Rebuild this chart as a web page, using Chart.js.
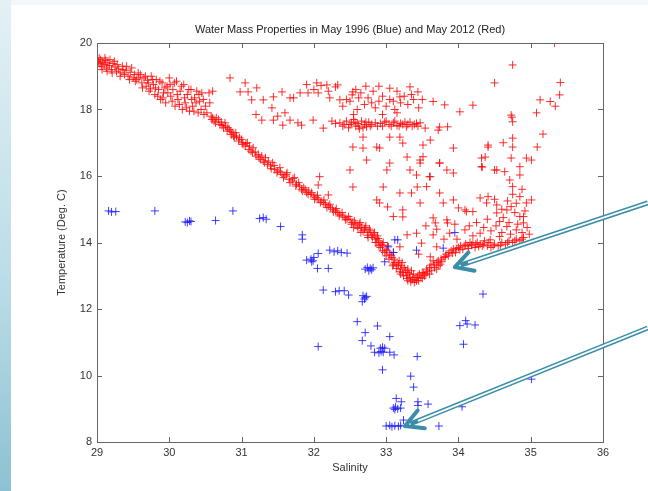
<!DOCTYPE html>
<html>
<head>
<meta charset="utf-8">
<script src="https://cdn.jsdelivr.net/npm/chart.js@4"></script>
<style>
  body { margin: 0; background: #fff; }
  #slide { position: absolute; left: 0; top: 0; width: 648px; height: 491px; background: #fff; }
  #strip { position: absolute; left: 0; top: 0; width: 11px; height: 491px;
           background: linear-gradient(#e4f1f5, #b9dbe6 60%, #8dc1d2); }
  #topstrip { position: absolute; left: 11px; top: 0; width: 637px; height: 5px; background: #f3f8fa; }
  canvas { position: absolute; left: 0; top: 0; }
</style>
</head>
<body>
<div id="slide"><div id="strip"></div><div id="topstrip"></div>
<canvas id="myChart" width="648" height="491"></canvas></div>
<script>
const chartTitle = 'Water Mass Properties in May 1996 (Blue) and May 2012 (Red)';
const xTitle = 'Salinity';
const yTitle = 'Temperature (Deg. C)';
const xTicks = [29, 30, 31, 32, 33, 34, 35, 36];
const yTicks = [8, 10, 12, 14, 16, 18, 20];

// May 2012 (red) - [salinity, temperature]
const redBand = [
  [29.02,19.45],[29.04,19.38],[29.05,19.5],[29.06,19.3],[29.08,19.42],[29.1,19.35],[29.12,19.47],[29.13,19.25],
  [29.15,19.4],[29.17,19.32],[29.2,19.2],[29.22,19.38],[29.25,19.28],[29.27,19.15],[29.3,19.22],[29.33,19.1],
  [29.35,19.3],[29.38,19.05],[29.4,19.18],[29.43,19.0],[29.46,19.12],[29.5,18.95],[29.52,19.05],[29.55,18.9],
  [30.62,17.65],[30.65,17.75],[30.7,17.55],[30.72,17.62],[30.75,17.45],[30.78,17.5],[30.8,17.35],[30.83,17.4],
  [30.86,17.25],[30.88,17.3],[30.9,17.15],[30.93,17.2],[30.96,17.05],[31.0,17.1],[31.02,16.95],[31.05,16.9],
  [31.08,17.0],[31.1,16.8],[31.13,16.75],[31.16,16.85],[31.2,16.6],[31.23,16.65],[31.26,16.5],[31.3,16.45],
  [31.33,16.55],[31.36,16.35],[31.4,16.3],[31.43,16.4],[31.46,16.2],[31.5,16.15],[31.53,16.25],[31.56,16.05],
  [31.6,16.0],[31.63,16.1],[31.66,15.9],[31.7,15.85],[31.73,15.95],[31.76,15.75],[31.8,15.7],[31.83,15.6],
  [31.86,15.65],[31.9,15.5],[31.93,15.55],[31.96,15.45],[32.0,15.4],[32.03,15.35],[32.06,15.3],[32.1,15.25],
  [32.13,15.2],[32.16,15.15],[32.2,15.1],[32.23,15.05],[32.26,15.0],[32.3,14.95],[32.33,14.9],[32.36,14.85],
  [32.4,14.8],[32.43,14.75],[32.46,14.7],[32.5,14.7],[32.53,14.6],[32.56,14.65],[32.6,14.5],[32.63,14.55],
  [32.66,14.45],[32.7,14.4],[32.72,14.5],[32.75,14.3],[32.78,14.35],[32.8,14.2],[32.83,14.25],[32.86,14.1],
  [32.88,14.2],[32.9,14.05],[32.93,13.95],[32.96,14.0],[33.0,13.8],[33.02,13.9],[33.05,13.65],[33.08,13.55],
  [33.1,13.7],[33.12,13.4],[33.15,13.3],[33.18,13.45],[33.2,13.2],[33.23,13.1],[33.25,13.25],[33.28,13.0],
  [33.3,13.1],[33.33,12.95],[33.36,12.88],[33.38,13.05],[33.4,12.9],[33.43,12.95],[33.46,13.05],[33.5,13.1],
  [33.53,13.0],[33.56,13.2],[33.6,13.25],[33.63,13.15],[33.66,13.35],[33.7,13.4],[33.73,13.3],[33.76,13.5],
  [33.8,13.55],[33.83,13.65],[33.86,13.6],[33.9,13.75],[33.93,13.8],[33.96,13.7],[34.0,13.85],[34.03,13.9],
  [34.06,13.8],[34.1,13.95],[34.13,13.9],[34.16,14.0],[34.2,13.95],[34.23,13.85],[34.26,14.0],[34.3,13.95],
  [34.33,13.9],[34.36,14.05],[34.4,13.9],[34.45,13.85],[34.5,13.95],[34.55,13.9],[34.6,14.0],[34.65,13.95],
  [34.7,14.05],[34.75,14.0],[34.8,14.1],[34.85,14.05],[34.9,14.15],
  [32.9,13.9],[33.0,13.6],[33.1,13.35],[33.2,13.05],[33.3,12.85],[33.35,13.15],[33.45,12.85],[33.5,12.92],
  [33.55,13.05],[33.6,13.05],[33.65,13.45],[33.7,13.2],[33.75,13.35],[33.3,13.2],[33.22,13.4],[32.95,13.75],
  [32.85,14.0],[32.75,14.15],[32.65,14.3],[32.55,14.45]
];

const redBandEdge = [
  [29.0,19.3],[29.03,19.55],[29.07,19.2],[29.11,19.55],[29.14,19.15],[29.18,19.5],[29.21,19.1],[29.24,19.45],
  [29.28,19.35],[29.32,19.0],[29.36,19.2],[29.41,19.3],[29.45,18.9],[29.48,19.25],[29.53,18.85],[29.57,19.1],
  [30.6,17.75],[30.64,17.6],[30.68,17.7],[30.73,17.52],[30.77,17.6],[30.81,17.45],[30.85,17.35],[30.89,17.2],
  [30.92,17.3],[30.97,17.15],[31.01,17.0],[31.06,16.98],[31.11,16.9],[31.15,16.7],[31.19,16.72],[31.24,16.55],
  [31.28,16.6],[31.32,16.4],[31.37,16.45],[31.41,16.22],[31.45,16.32],[31.49,16.1],[31.54,16.12],[31.58,15.95],
  [31.62,16.05],[31.67,15.8],[31.71,15.92],[31.75,15.7],[31.79,15.8],[31.84,15.55],[31.88,15.6],[31.92,15.45],
  [31.97,15.5],[32.01,15.3],[32.05,15.42],[32.09,15.2],[32.14,15.28],[32.18,15.05],[32.22,15.15],[32.27,14.92],
  [32.31,15.02],[32.35,14.8],[32.39,14.9],[32.44,14.68],[32.48,14.78],[32.52,14.55],[32.57,14.58],[32.61,14.42],
  [32.64,14.6],[32.68,14.35],[32.71,14.45],[32.74,14.22],[32.77,14.4],[32.81,14.15],[32.84,14.3],[32.87,14.0],
  [32.89,14.12],[32.92,13.85],[32.95,13.92],[32.98,13.7],[33.01,13.75],[33.04,13.5],[33.07,13.62],[33.09,13.3],
  [33.11,13.5],[33.14,13.22],[33.17,13.35],[33.19,13.12],[33.21,13.3],[33.24,13.0],[33.27,13.15],[33.29,12.92],
  [33.32,13.05],[33.34,12.82],[33.37,12.95],[33.39,12.8],[33.42,12.85],[33.44,13.0],[33.48,12.95],[33.52,13.08],
  [33.57,13.12],[33.62,13.32],[33.67,13.25],[33.72,13.45],[33.77,13.42],[33.82,13.58],[33.87,13.7],[33.92,13.68],
  [33.97,13.82],[34.02,13.78],[34.08,13.9],[34.14,13.82],[34.18,13.92],[34.24,13.95],[34.28,13.88],[34.35,13.95],
  [34.42,14.0],[34.48,13.9],[34.58,13.92],[34.68,14.0],[34.78,14.05],[34.88,14.1]
];

const redUpperLeft = [
  [29.6,19.05],[29.62,18.8],[29.65,18.95],[29.68,18.7],[29.7,18.88],[29.72,18.55],[29.75,19.0],[29.78,18.75],
  [29.8,18.45],[29.82,18.9],[29.85,18.6],[29.88,18.3],[29.9,18.8],[29.92,18.5],[29.95,18.2],[29.97,18.7],
  [30.0,18.95],[30.02,18.4],[30.05,18.6],[30.08,18.1],[30.1,18.85],[30.12,18.3],[30.15,18.55],[30.18,18.0],
  [30.2,18.75],[30.22,18.2],[30.25,18.45],[30.28,17.95],[30.3,18.6],[30.32,18.1],[30.35,18.35],[30.38,18.55],
  [30.4,17.9],[30.42,18.25],[30.45,18.5],[30.48,17.85],[30.5,18.1],[30.55,18.5],[30.58,17.8],[30.6,18.55],
  [29.58,18.95],[29.63,18.65],[29.67,19.0],[29.71,18.8],[29.74,18.62],[29.77,18.9],[29.81,18.65],[29.84,18.4],
  [29.87,18.85],[29.91,18.35],[29.94,18.65],[29.98,18.5],[30.01,18.75],[30.04,18.25],[30.07,18.8],[30.11,18.45],
  [30.14,18.15],[30.17,18.7],[30.21,18.35],[30.24,18.05],[30.27,18.6],[30.31,18.3],[30.34,17.95],[30.37,18.2],
  [30.41,18.45],[30.44,18.0],[30.47,18.3],[30.52,17.9],[30.56,18.2],[30.59,17.7],
  [30.84,18.95],[31.05,18.8],[30.98,18.53],[31.09,18.53],[31.21,18.65],[31.14,18.29],[31.3,18.29],[31.44,18.38],
  [31.56,18.53],[31.67,18.35],[31.81,18.5],[31.92,18.5],[32.04,18.8],[32.18,18.74],[32.33,18.74],[32.06,18.5],
  [32.22,18.35],[32.36,18.29],[32.53,18.44],[31.28,17.68],[31.44,17.68],[31.57,17.53],[31.67,17.68],[31.83,17.53],
  [31.99,17.68],[32.13,17.44],[31.42,18.05],[31.5,17.8],[31.6,17.9],[31.78,17.6],[31.2,17.85],[31.72,18.35]
];

const redUpperMid = [
  [32.36,17.6],[32.4,17.5],[32.45,17.65],[32.48,17.45],[32.52,17.6],[32.55,17.7],[32.58,17.5],[32.6,17.58],
  [32.63,17.42],[32.66,17.65],[32.7,17.55],[32.73,17.48],[32.76,17.62],[32.8,17.55],
  [32.92,17.58],[32.98,17.62],[33.04,17.55],[33.1,17.6],[33.15,17.52],[33.2,17.58],[33.26,17.62],[33.3,17.55],
  [33.36,17.5],[33.42,17.58],[33.47,17.6],
  [32.42,17.55],[32.5,17.55],[32.57,17.62],[32.62,17.5],[32.68,17.45],[32.72,17.62],[32.78,17.5],[32.85,17.6],
  [32.88,17.5],[32.95,17.5],[33.0,17.65],[33.07,17.5],[33.12,17.65],[33.18,17.5],[33.23,17.55],[33.28,17.48],
  [33.33,17.62],[33.39,17.55],[33.44,17.5],[32.3,17.58],[32.25,17.65],
  [32.4,18.1],[32.5,18.25],[32.6,18.0],[32.7,18.15],[32.75,18.35],[32.85,18.05],[32.9,18.25],[33.0,18.1],
  [33.05,18.3],[33.12,18.0],[33.2,18.2],[33.25,18.4],[33.3,18.15],[33.38,18.3],[33.45,18.05],[32.55,17.85],
  [32.95,17.85],[33.15,17.9],
  [32.45,18.3],[32.62,18.35],[32.8,18.2],[32.95,18.4],[33.1,18.25],[33.35,18.45],[32.65,18.5],[32.82,18.55],
  [32.72,18.7],[32.9,18.7],[33.15,18.55],[33.5,18.3],[32.58,18.6],
  [31.9,18.75],[32.0,18.6],[32.1,18.72],[32.2,18.55],[32.3,18.68],[32.54,18.53],[33.05,18.64],[33.33,18.68],
  [33.44,18.53],[33.19,18.38]
];

const redUpperRight = [
  [33.81,18.14],[34.02,17.93],[34.2,18.13],[34.5,18.8],[34.75,19.34],[35.13,18.29],[35.08,17.9],[34.74,17.77],
  [35.41,18.81],[35.4,18.44],[35.27,18.24],[35.34,18.1],[35.17,17.26],[35.09,16.87],[35.33,20.0],
  [34.73,17.83],[34.75,17.63],[34.75,17.14],[34.62,17.0],[34.41,16.87],[34.32,16.54],[34.32,16.28],
  [33.65,18.24],[33.85,17.48],[33.72,17.38],[33.93,16.84],[33.54,17.44],[33.51,16.93],[33.74,16.39],[33.93,16.09]
];

const redMiddle = [
  [34.5,16.18],[34.64,16.13],[34.73,16.54],[34.85,16.03],[34.94,16.54],[35.01,16.48],[34.85,16.28],[34.71,15.88],
  [34.75,15.68],[35.01,15.28],[34.85,15.38],[34.41,15.38],[34.53,15.13],[34.67,14.98],[34.8,15.18],[34.9,14.78],
  [34.57,14.63],[33.74,15.49],[33.79,15.19],[33.93,15.28],[34.09,14.98],[34.2,14.93],[33.65,14.74],[33.85,14.59],
  [33.56,15.68],[33.6,15.98],
  [33.01,16.18],[33.51,16.58],[33.74,16.39],[33.42,16.03],[33.61,15.98],[33.35,15.49],[33.1,14.78],[33.23,14.98],
  [33.47,15.19],[33.68,14.59],[33.84,14.68],[34.0,15.04],[34.11,14.93],[34.3,15.34],[34.39,15.19],[34.53,14.89],
  [34.73,15.08],[34.8,14.38],[34.9,14.59],[34.85,14.78],[34.67,14.48],[34.57,14.18],[34.44,14.08],[34.94,15.19],
  [34.3,14.28],[34.09,14.38],[33.88,14.28],[33.65,14.23],[33.42,14.28],[33.49,13.98],[33.29,14.23],[33.19,13.87],
  [33.7,13.87],[33.61,13.57],[33.45,13.65],
  [34.45,14.35],[34.52,14.5],[34.6,14.3],[34.62,14.75],[34.7,14.6],[34.72,14.25],[34.78,14.9],[34.82,14.55],
  [34.88,14.3],[34.95,14.45],[34.92,14.95],[34.6,15.0],[34.68,15.25],[34.5,15.3],[34.75,15.45],[34.88,15.6],
  [34.98,14.25],[34.4,14.7],[34.35,14.45],[34.25,14.6],[34.2,14.2],[34.15,14.5],[33.95,14.55],[33.98,14.1],
  [33.8,14.1],[33.55,14.5],[33.7,14.4],
  [32.5,16.18],[32.54,15.67],[32.73,16.48],[32.91,16.84],[33.05,16.39],[32.87,15.28],[33.02,15.07],[33.23,14.77],
  [33.19,15.49],[33.43,15.67],[33.33,16.18],[33.47,16.48],[33.61,17.08],[33.74,17.47],[33.23,16.99],[33.05,17.17],
  [32.68,17.17],[32.54,16.87],[32.08,15.98],[32.06,15.73],[32.2,15.43],[32.68,16.84],[32.87,16.87],[33.19,17.17],
  [33.29,16.57],[33.47,16.39],[33.84,16.18],[34.37,16.57],[34.33,16.27],[34.53,16.18],[34.75,16.87],[34.41,16.93],
  [32.91,15.19],[32.96,15.67]
];

// May 1996 (blue)
const blueSurface = [
  [29.16,14.95],[29.2,14.92],[29.26,14.93],[29.8,14.95],[30.22,14.62],[30.25,14.6],[30.28,14.65],[30.3,14.63],
  [30.64,14.66],[30.88,14.95],[31.25,14.72],[31.3,14.75],[31.34,14.7],[31.54,14.48],[31.84,14.23],[31.84,14.1],
  [31.9,13.47],[31.96,13.5],[31.99,13.45],[32.0,13.55],[31.97,13.42],[32.06,13.67],[32.05,13.22],
  [32.2,13.22],[32.22,13.77],[32.28,13.72],[32.33,13.75],[32.38,13.7],[32.46,13.68],
  [32.74,13.25],[32.78,13.22],[32.8,13.18],[32.76,13.15],[32.82,13.24],[32.71,13.2],[32.98,13.42],
  [33.03,13.87],[33.12,14.08],[33.16,14.08],[33.42,13.77],[33.79,13.83],[33.95,14.3],[33.1,13.7]
];

const blueDeep = [
  [32.13,12.57],[32.3,12.52],[32.35,12.55],[32.42,12.55],[32.48,12.42],
  [32.68,12.4],[32.71,12.35],[32.73,12.38],[32.7,12.3],[32.67,12.22],
  [32.6,11.62],[32.88,11.49],[32.71,11.29],[33.05,11.17],[32.67,11.05],[32.79,10.89],[32.92,10.82],[32.98,10.82],
  [32.95,10.85],[32.84,10.7],[32.9,10.68],[32.93,10.72],[32.96,10.7],[33.05,10.7],[33.11,10.62],[32.06,10.87],
  [32.95,10.17],[33.43,10.57],[33.34,9.98],[33.38,9.65],[33.14,9.31],
  [33.1,9.02],[33.13,9.05],[33.16,9.0],[33.2,9.02],[33.12,8.98],[33.21,9.21],[33.44,9.21],[33.44,9.1],[33.58,9.14],
  [33.0,8.48],[33.05,8.5],[33.08,8.46],[33.12,8.49],[33.17,8.47],[33.2,8.5],[33.24,8.66],[33.73,8.48],
  [34.02,11.5],[34.1,11.65],[34.12,11.55],[34.23,11.52],[34.07,10.94],[34.05,9.06],[35.01,9.89],[34.34,12.45]
];

// arrows (annotation): [startS, startT, tipS, tipT]
const arrows = [
  [36.62, 15.19, 33.95, 13.26],
  [36.62, 11.43, 33.26, 8.48]
];

const toPoints = list => list.map(p => ({ x: p[0], y: p[1] }));
const redData = [].concat(redBand, redBandEdge, redUpperLeft, redUpperMid, redUpperRight, redMiddle);
const blueData = [].concat(blueSurface, blueDeep);

const fontFam = "'Liberation Sans', Arial, sans-serif";

const frame = {
  id: 'frame',
  afterDraw(chart) {
    const { ctx, chartArea: a, scales: { x, y } } = chart;
    ctx.save();
    ctx.strokeStyle = '#666';
    ctx.lineWidth = 1;
    ctx.strokeRect(Math.round(a.left) + 0.5, Math.round(a.top) + 0.5,
      Math.round(a.right - a.left), Math.round(a.bottom - a.top));
    ctx.beginPath();
    xTicks.forEach(v => {
      const px = Math.round(x.getPixelForValue(v)) + 0.5;
      ctx.moveTo(px, a.bottom); ctx.lineTo(px, a.bottom - 5);
      ctx.moveTo(px, a.top); ctx.lineTo(px, a.top + 5);
    });
    yTicks.forEach(v => {
      const py = Math.round(y.getPixelForValue(v)) + 0.5;
      ctx.moveTo(a.left, py); ctx.lineTo(a.left + 5, py);
      ctx.moveTo(a.right, py); ctx.lineTo(a.right - 5, py);
    });
    ctx.stroke();

    ctx.fillStyle = '#222';
    ctx.font = '11px ' + fontFam;
    ctx.textAlign = 'center';
    ctx.fillText(chartTitle, (a.left + a.right) / 2, a.top - 10);

    // arrows
    arrows.forEach(ar => {
      const sx = x.getPixelForValue(ar[0]), sy = y.getPixelForValue(ar[1]);
      const tx = x.getPixelForValue(ar[2]), ty = y.getPixelForValue(ar[3]);
      const ang = Math.atan2(sy - ty, sx - tx);
      const bx = tx + Math.cos(ang) * 6, by = ty + Math.sin(ang) * 6;
      ctx.lineCap = 'butt';
      ctx.strokeStyle = '#3b8ea8';
      ctx.lineWidth = 5;
      ctx.beginPath(); ctx.moveTo(sx, sy); ctx.lineTo(bx, by); ctx.stroke();
      ctx.strokeStyle = '#fff';
      ctx.lineWidth = 1.8;
      ctx.beginPath(); ctx.moveTo(sx, sy); ctx.lineTo(bx + Math.cos(ang) * 8, by + Math.sin(ang) * 8); ctx.stroke();
      ctx.strokeStyle = '#3b8ea8';
      ctx.lineWidth = 4;
      ctx.lineCap = 'round';
      ctx.beginPath();
      [0.5, -0.5].forEach(d => {
        ctx.moveTo(tx, ty);
        ctx.lineTo(tx + Math.cos(ang + d) * 20, ty + Math.sin(ang + d) * 20);
      });
      ctx.stroke();
    });
    ctx.restore();
  }
};

const ctx = document.getElementById('myChart');

new Chart(ctx, {
  type: 'scatter',
  data: {
    datasets: [
      {
        label: 'May 1996',
        data: toPoints(blueData),
        pointStyle: 'cross',
        radius: 4,
        borderWidth: 1,
        borderColor: 'rgba(30,30,255,0.85)',
        backgroundColor: 'rgba(30,30,255,0.85)'
      },
      {
        label: 'May 2012',
        data: toPoints(redData),
        pointStyle: 'cross',
        radius: 4,
        borderWidth: 1,
        borderColor: 'rgba(255,10,10,0.85)',
        backgroundColor: 'rgba(255,10,10,0.85)'
      }
    ]
  },
  options: {
    responsive: false,
    animation: false,
    devicePixelRatio: 1,
    layout: { padding: { left: 0, top: 43, right: 45, bottom: 0 } },
    scales: {
      x: {
        type: 'linear',
        min: 29,
        max: 36,
        afterBuildTicks: s => { s.ticks = xTicks.map(v => ({ value: v })); },
        afterFit: s => { s.height = 49; },
        grid: { display: false, drawTicks: false },
        border: { display: false },
        ticks: { padding: 4, color: '#333', font: { family: fontFam, size: 11 } },
        title: { display: true, text: xTitle, color: '#333', padding: { top: 0, bottom: 16 },
                 font: { family: fontFam, size: 11 } }
      },
      y: {
        type: 'linear',
        min: 8,
        max: 20,
        afterBuildTicks: s => { s.ticks = yTicks.map(v => ({ value: v })); },
        afterFit: s => { s.width = 97; },
        grid: { display: false, drawTicks: false },
        border: { display: false },
        ticks: { padding: 5, color: '#333', font: { family: fontFam, size: 11 } },
        title: { display: true, text: yTitle, color: '#333', padding: { top: 55, bottom: 0 },
                 font: { family: fontFam, size: 11 } }
      }
    },
    plugins: {
      legend: { display: false },
      tooltip: { enabled: false }
    }
  },
  plugins: [frame]
});
</script>
</body>
</html>
